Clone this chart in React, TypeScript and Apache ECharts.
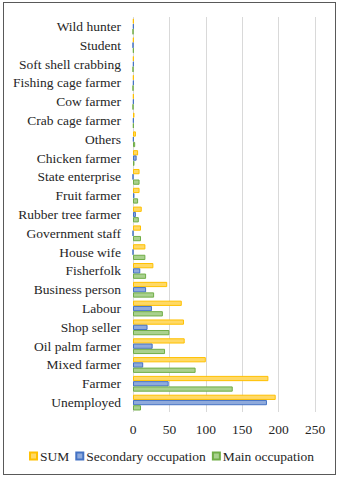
import React, { useEffect, useRef } from "react";
import * as echarts from "echarts";

const categories = [
  "Unemployed", "Farmer", "Mixed farmer", "Oil palm farmer", "Shop seller", "Labour",
  "Business person", "Fisherfolk", "House wife", "Government staff", "Rubber tree farmer",
  "Fruit farmer", "State enterprise", "Chicken farmer", "Others", "Crab cage farmer",
  "Cow farmer", "Fishing cage farmer", "Soft shell crabbing", "Student", "Wild hunter",
];
const sumValues = [196, 186, 100, 71, 70, 67, 47, 28, 17, 11, 12, 9, 9, 7, 4, 2, 1, 1, 1, 1, 1];
const secondaryValues = [184, 49, 14, 27, 20, 26, 18, 10, 0, 0, 4, 2, 0, 5, 1, 1, 1, 1, 1, 0, 1];
const mainValues = [11, 137, 86, 44, 50, 41, 29, 18, 17, 11, 8, 7, 9, 2, 3, 1, 0, 0, 0, 1, 0];
const xTicks = [0, 50, 100, 150, 200, 250];

const FONT = "'Liberation Serif', 'Times New Roman', serif";
const TEXT = "#262626";

export default function App() {
  const ref = useRef<HTMLDivElement>(null);
  useEffect(() => {
    if (!ref.current) return;
    const chart = echarts.init(ref.current, null, { renderer: "svg" });
    const mk = (name: string, data: number[], fill: string, border: string) => ({
      name,
      type: "bar",
      data,
      barGap: "0%",
      barCategoryGap: "16%",
      itemStyle: { color: fill, borderColor: border, borderWidth: 1 },
    });
    chart.setOption({
      animation: false,
      grid: { left: 133, right: 28, top: 17, bottom: 68 },
      legend: {
        data: ["SUM", "Secondary occupation", "Main occupation"],
        bottom: 12,
        left: "center",
        itemWidth: 7,
        itemHeight: 7,
        itemGap: 6,
        icon: "rect",
        textStyle: { fontFamily: FONT, fontSize: 13.5, color: TEXT, padding: [0, 0, 0, -2] },
      },
      xAxis: {
        type: "value",
        min: xTicks[0],
        max: xTicks[xTicks.length - 1],
        interval: 50,
        axisLine: { show: false },
        axisTick: { show: false },
        splitLine: { lineStyle: { color: "#d9d9d9", width: 1 } },
        axisLabel: { fontFamily: FONT, fontSize: 13.5, color: TEXT, margin: 10 },
      },
      yAxis: {
        type: "category",
        data: categories,
        axisLine: { show: false },
        axisTick: { show: false },
        axisLabel: { fontFamily: FONT, fontSize: 13.5, color: TEXT, margin: 12 },
      },
      series: [
        mk("SUM", sumValues, "#ffd966", "#ffc000"),
        mk("Secondary occupation", secondaryValues, "#8faadc", "#4472c4"),
        mk("Main occupation", mainValues, "#a9d18e", "#70ad47"),
      ],
    });
    return () => chart.dispose();
  }, []);
  return (
    <div style={{ position: "fixed", left: 0, top: 0, width: 343, height: 480, background: "#fff" }}>
      <div
        style={{
          position: "absolute",
          left: 3,
          top: 2,
          width: 333,
          height: 473,
          border: "1.5px solid #595959",
          boxSizing: "border-box",
        }}
      />
      <div ref={ref} style={{ position: "absolute", left: 0, top: 0, width: 343, height: 480 }} />
    </div>
  );
}
